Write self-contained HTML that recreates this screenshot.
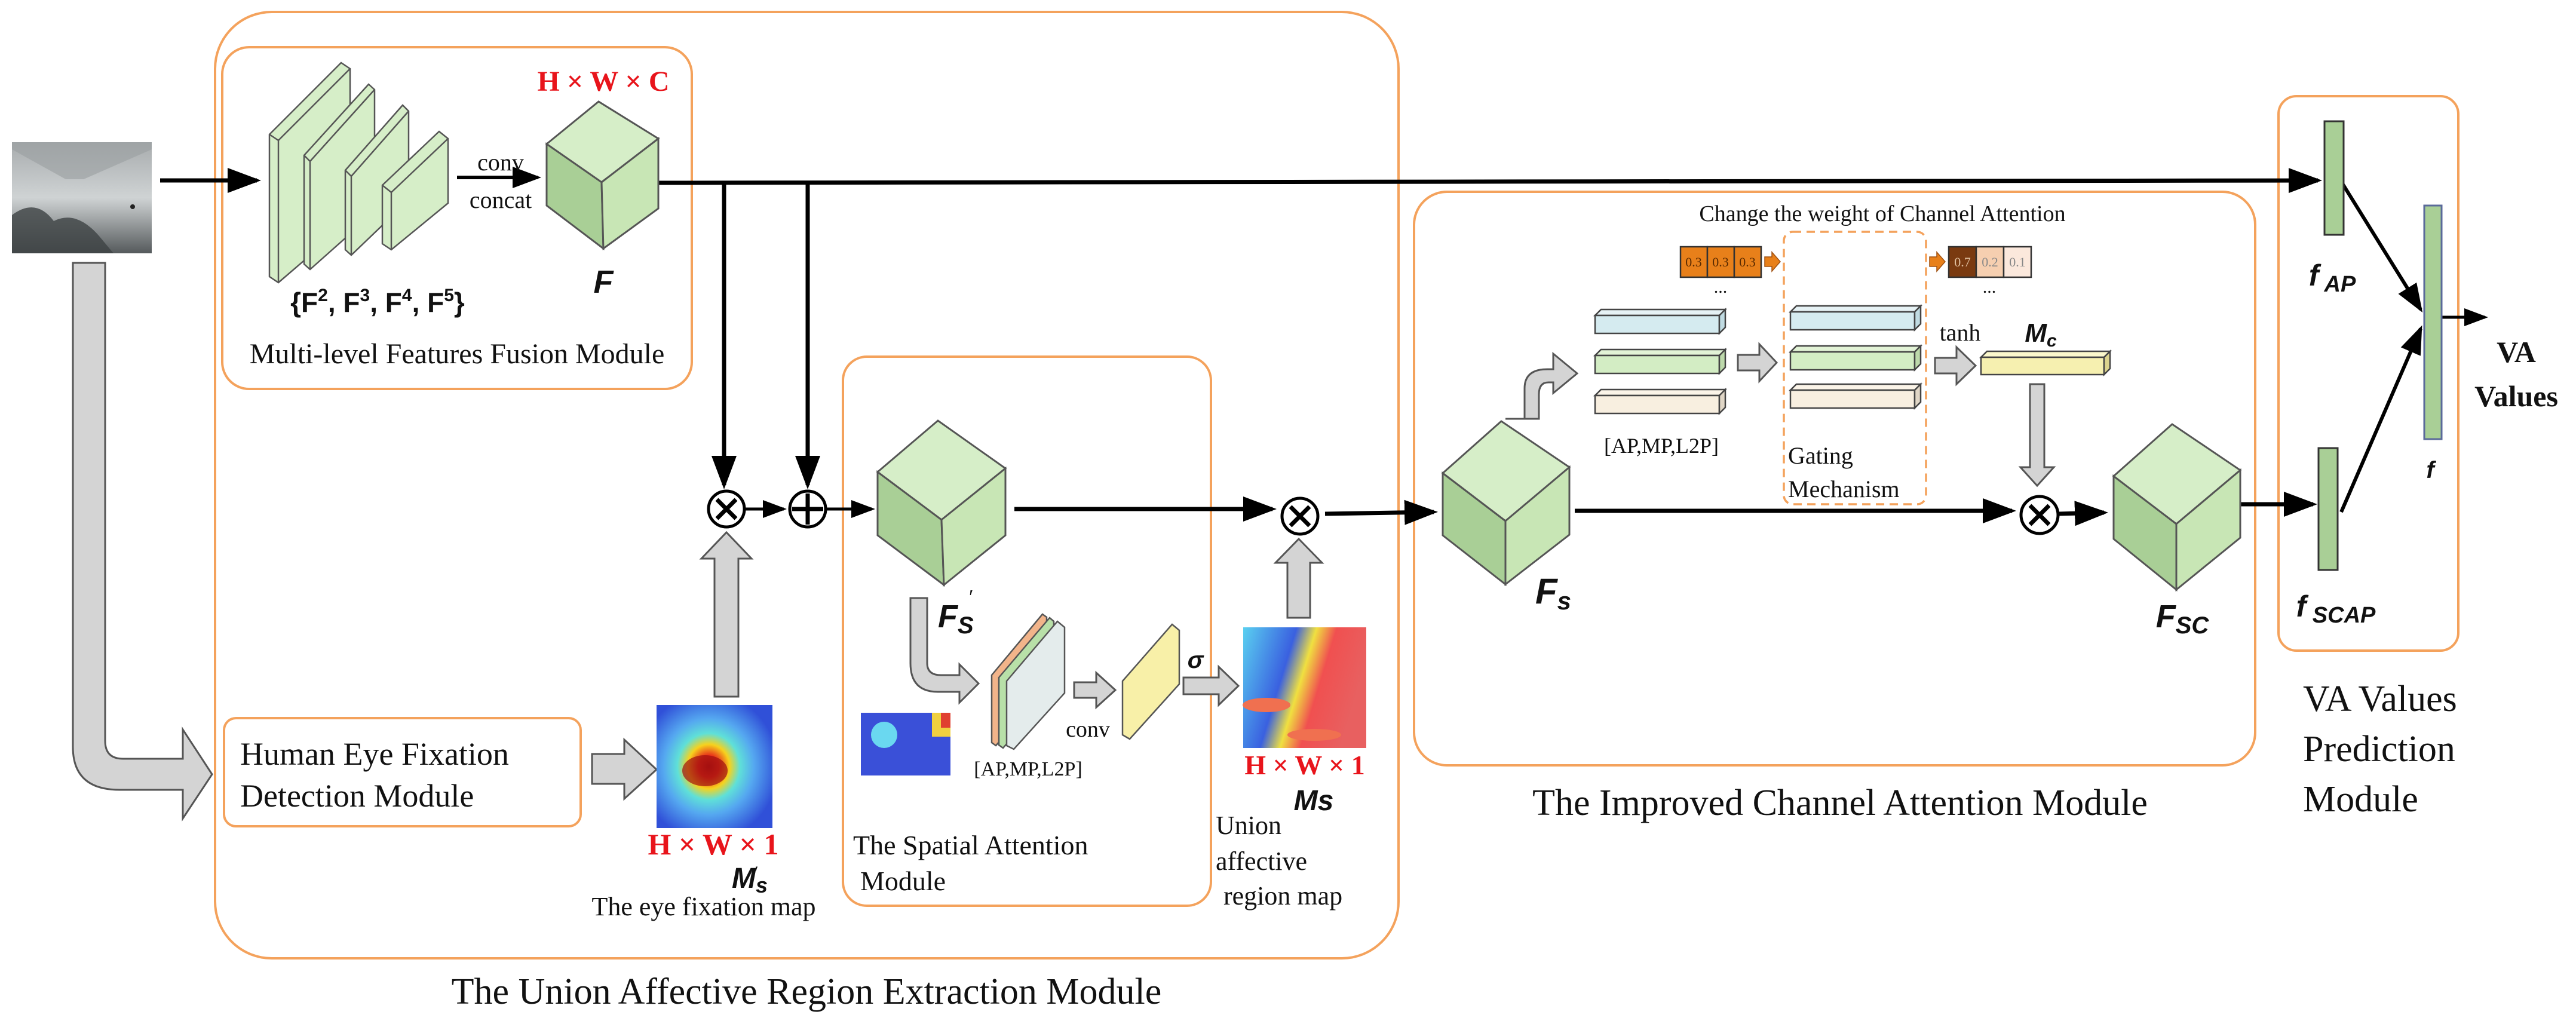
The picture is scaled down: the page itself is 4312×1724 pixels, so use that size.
<!DOCTYPE html>
<html><head><meta charset="utf-8"><style>
html,body{margin:0;padding:0;background:#fff;}
svg{display:block;}
.s{font-family:"Liberation Serif",serif;fill:#111;}
.b{font-family:"Liberation Sans",sans-serif;font-weight:bold;fill:#111;}
.r{font-family:"Liberation Serif",serif;font-weight:bold;fill:#e8141b;}
</style></head><body>
<svg width="4312" height="1724" viewBox="0 0 4312 1724" xmlns="http://www.w3.org/2000/svg">
<defs>
<marker id="ah" markerWidth="8" markerHeight="8" refX="7" refY="4" orient="auto" markerUnits="strokeWidth"><path d="M0,1 L8,4 L0,7 z" fill="#000"/></marker>
<radialGradient id="hm1" cx="0.45" cy="0.5" r="0.6">
<stop offset="0" stop-color="#b01010"/><stop offset="0.15" stop-color="#e8301a"/><stop offset="0.3" stop-color="#f7d21d"/><stop offset="0.45" stop-color="#5fe0d8"/><stop offset="0.65" stop-color="#55a8f0"/><stop offset="1" stop-color="#3050d8"/></radialGradient>
<linearGradient id="hm2" x1="0" y1="0" x2="1" y2="0.3">
<stop offset="0" stop-color="#5ad0f0"/><stop offset="0.4" stop-color="#3a60e0"/><stop offset="0.55" stop-color="#f0e040"/><stop offset="0.7" stop-color="#f05050"/><stop offset="1" stop-color="#e86060"/></linearGradient>
<linearGradient id="sky" x1="0" y1="0" x2="0" y2="1"><stop offset="0" stop-color="#a8acae"/><stop offset="0.5" stop-color="#cfd3d4"/><stop offset="0.6" stop-color="#b8bcbd"/><stop offset="1" stop-color="#555a5c"/></linearGradient>
</defs>

<rect x="360" y="20" width="1981" height="1584" rx="95" fill="none" stroke="#f4a25c" stroke-width="4"/>
<rect x="372" y="79" width="786" height="572" rx="45" fill="none" stroke="#f4a25c" stroke-width="4"/>
<rect x="375" y="1202" width="597" height="181" rx="20" fill="none" stroke="#f4a25c" stroke-width="4"/>
<rect x="1411" y="597" width="616" height="919" rx="40" fill="none" stroke="#f4a25c" stroke-width="4"/>
<rect x="2367" y="321" width="1408" height="960" rx="55" fill="none" stroke="#f4a25c" stroke-width="4"/>
<rect x="3814" y="161" width="301" height="928" rx="30" fill="none" stroke="#f4a25c" stroke-width="4"/>
<rect x="2986" y="388" width="238" height="456" rx="15" fill="none" stroke="#f4a25c" stroke-width="3.5" stroke-dasharray="14,9"/>

<rect x="20" y="238" width="234" height="186" fill="url(#sky)"/>
<path d="M20,250 L110,300 L140,300 L254,250 L254,238 L20,238z" fill="#9a9ea0" opacity="0.6"/>
<path d="M20,424 L20,360 Q60,330 90,370 Q130,350 170,400 L190,424z" fill="#3d4244" opacity="0.8"/>
<circle cx="222" cy="346" r="4" fill="#222"/>

<g stroke="#000" stroke-width="7" fill="none">
<line x1="268" y1="302" x2="430" y2="302" marker-end="url(#ah)"/>
<line x1="765" y1="297" x2="900" y2="297" stroke-width="6" marker-end="url(#ah)"/>
<line x1="1102" y1="306" x2="3880" y2="302" marker-end="url(#ah)"/>
<line x1="1212" y1="306" x2="1212" y2="812" marker-end="url(#ah)"/>
<line x1="1352" y1="306" x2="1352" y2="812" marker-end="url(#ah)"/>
<line x1="1248" y1="852" x2="1312" y2="852" stroke-width="5" marker-end="url(#ah)"/>
<line x1="1384" y1="852" x2="1460" y2="852" stroke-width="5" marker-end="url(#ah)"/>
<line x1="1698" y1="852" x2="2130" y2="852" marker-end="url(#ah)"/>
<line x1="2218" y1="860" x2="2400" y2="857" marker-end="url(#ah)"/>
<line x1="2636" y1="855" x2="3368" y2="855" marker-end="url(#ah)"/>
<line x1="3446" y1="860" x2="3522" y2="858" marker-end="url(#ah)"/>
<line x1="3750" y1="844" x2="3872" y2="844" marker-end="url(#ah)"/>
<line x1="3919" y1="304" x2="4052" y2="518" stroke-width="6" marker-end="url(#ah)"/>
<line x1="3919" y1="857" x2="4052" y2="550" stroke-width="6" marker-end="url(#ah)"/>
<line x1="4087" y1="531" x2="4160" y2="531" stroke-width="5" marker-end="url(#ah)"/>
</g>

<g stroke="#000" stroke-width="5" fill="#fff">
<circle cx="1216" cy="852" r="30"/><circle cx="1352" cy="852" r="30"/><circle cx="2176" cy="864" r="30"/><circle cx="3414" cy="862" r="31"/>
</g>
<g stroke="#000" stroke-width="7">
<path d="M1200,836 L1232,868 M1232,836 L1200,868"/>
<path d="M1352,826 L1352,878 M1326,852 L1378,852"/>
<path d="M2160,848 L2192,880 M2192,848 L2160,880"/>
<path d="M3398,846 L3430,878 M3430,846 L3398,878"/>
</g>

<g fill="#d4d4d4" stroke="#555" stroke-width="3">
<path d="M122,440 L176,440 L176,1240 Q176,1270 206,1270 L306,1270 L306,1221 L355,1296 L306,1370 L306,1322 L200,1322 Q122,1322 122,1250 z"/>
<path d="M991,1262 L1045,1262 L1045,1238 L1099,1288 L1045,1337 L1045,1312 L991,1312 z"/>
<path d="M1196,1166 L1236,1166 L1236,935 L1258,935 L1216,891 L1174,935 L1196,935 z"/>
<path d="M2155,1034 L2193,1034 L2193,942 L2213,942 L2174,902 L2135,942 L2155,942 z"/>
<path d="M1524,1001 L1552,1001 L1552,1110 Q1552,1130 1575,1130 L1606,1130 L1606,1112 L1638,1144 L1606,1176 L1606,1158 L1570,1158 Q1524,1158 1524,1110 z"/>
<path d="M1798,1142 L1835,1142 L1835,1126 L1867,1155 L1835,1184 L1835,1168 L1798,1168 z"/>
<path d="M1981,1134 L2040,1134 L2040,1116 L2073,1148 L2040,1180 L2040,1162 L1981,1162 z"/>
<path d="M2520,701 L2552,701 L2552,650 Q2552,618 2590,618 L2600,618 L2600,592 L2640,625 L2600,658 L2600,640 L2592,640 Q2576,640 2576,660 L2576,701 z"/>
<path d="M2909,594 L2945,594 L2945,576 L2974,607 L2945,638 L2945,620 L2909,620 z"/>
<path d="M3239,599 L3275,599 L3275,581 L3307,612 L3275,643 L3275,625 L3239,625 z"/>
<path d="M3398,643 L3422,643 L3422,782 L3438,782 L3410,813 L3382,782 L3398,782 z"/>
</g>

<g stroke="#555" stroke-width="2.5">
<polygon points="451,225 571,105 586,115 586,370 466,473 451,463" fill="#d6eec8"/>
<polygon points="509,260 617,141 627,150 627,355 519,451 509,442" fill="#d6eec8"/>
<polygon points="578,285 674,176 684,186 684,335 588,427 578,418" fill="#d6eec8"/>
<polygon points="640,310 735,220 750,232 750,340 655,418 640,408" fill="#d6eec8"/>
<path d="M451,225 L466,235 L466,473 M466,235 L586,115" fill="none"/>
<path d="M509,260 L519,270 L519,451 M519,270 L627,150" fill="none"/>
<path d="M578,285 L588,295 L588,427 M588,295 L684,186" fill="none"/>
<path d="M640,310 L655,322 L655,418 M655,322 L750,232" fill="none"/>
</g>

<g stroke="#555" stroke-width="3">
<polygon points="915,241 1002,170 1102,232 1007,305" fill="#d6eec8"/>
<polygon points="915,241 1007,305 1010,416 915,344" fill="#a9cf96"/>
<polygon points="1007,305 1102,232 1102,349 1010,416" fill="#c8e6b5"/>
<polygon points="1469,790 1570,704 1683,784 1576,870" fill="#d6eec8"/>
<polygon points="1469,790 1576,870 1580,979 1469,896" fill="#a9cf96"/>
<polygon points="1576,870 1683,784 1683,896 1580,979" fill="#c8e6b5"/>
<polygon points="2415,792 2513,705 2627,782 2520,872" fill="#d6eec8"/>
<polygon points="2415,792 2520,872 2520,978 2415,896" fill="#a9cf96"/>
<polygon points="2520,872 2627,782 2627,895 2520,978" fill="#c8e6b5"/>
<polygon points="3538,797 3636,710 3750,787 3643,877" fill="#d6eec8"/>
<polygon points="3538,797 3643,877 3643,987 3538,902" fill="#a9cf96"/>
<polygon points="3643,877 3750,787 3750,900 3643,987" fill="#c8e6b5"/>
</g>

<g stroke="#555" stroke-width="2.5">
<polygon points="1660,1130 1745,1028 1752,1033 1752,1150 1667,1248 1660,1243" fill="#f2b48a"/>
<polygon points="1672,1134 1757,1034 1764,1040 1764,1156 1679,1252 1672,1247" fill="#b8e0a8"/>
<polygon points="1685,1140 1770,1040 1782,1050 1782,1160 1697,1254 1685,1248" fill="#e4ecec"/>
<polygon points="1879,1140 1962,1045 1974,1055 1974,1145 1891,1237 1879,1230" fill="#f8f0a8"/>
</g>

<rect x="1099" y="1180" width="194" height="206" fill="url(#hm1)"/>
<ellipse cx="1180" cy="1290" rx="38" ry="26" fill="#a01010" opacity="0.7"/>
<rect x="2081" y="1050" width="206" height="202" fill="url(#hm2)"/>
<ellipse cx="2120" cy="1180" rx="40" ry="12" fill="#f07050"/><ellipse cx="2200" cy="1230" rx="45" ry="10" fill="#f07050"/>
<rect x="1441" y="1193" width="150" height="105" fill="#3a50d8"/>
<circle cx="1480" cy="1230" r="22" fill="#6ad8f0"/><rect x="1560" y="1193" width="31" height="40" fill="#f0d040"/><rect x="1575" y="1193" width="16" height="25" fill="#e04030"/>

<g stroke="#444" stroke-width="2.5">
<polygon points="2670,528 2680,518 2888,518 2878,528" fill="#e6f2f5"/><rect x="2670" y="528" width="208" height="30" fill="#d5ebf0"/><polygon points="2878,528 2888,518 2888,548 2878,558" fill="#c0dbe2"/>
<polygon points="2670,595 2680,585 2888,585 2878,595" fill="#e2f3d6"/><rect x="2670" y="595" width="208" height="30" fill="#d3edc4"/><polygon points="2878,595 2888,585 2888,615 2878,625" fill="#bdd9ab"/>
<polygon points="2670,662 2680,652 2888,652 2878,662" fill="#fbf4e8"/><rect x="2670" y="662" width="208" height="30" fill="#f8efe0"/><polygon points="2878,662 2888,652 2888,682 2878,692" fill="#e0d6c6"/>
<polygon points="2997,522 3007,512 3215,512 3205,522" fill="#e6f2f5"/><rect x="2997" y="522" width="208" height="30" fill="#d5ebf0"/><polygon points="3205,522 3215,512 3215,542 3205,552" fill="#c0dbe2"/>
<polygon points="2997,589 3007,579 3215,579 3205,589" fill="#e2f3d6"/><rect x="2997" y="589" width="208" height="30" fill="#d3edc4"/><polygon points="3205,589 3215,579 3215,609 3205,619" fill="#bdd9ab"/>
<polygon points="2997,653 3007,643 3215,643 3205,653" fill="#fbf4e8"/><rect x="2997" y="653" width="208" height="30" fill="#f8efe0"/><polygon points="3205,653 3215,643 3215,673 3205,683" fill="#e0d6c6"/>
<polygon points="3316,598 3326,588 3532,588 3522,598" fill="#fbf8cc"/><rect x="3316" y="598" width="206" height="29" fill="#f6f0b0"/><polygon points="3522,598 3532,588 3532,617 3522,627" fill="#dcd48e"/>
</g>

<g stroke="#333" stroke-width="2.5">
<rect x="2813" y="413" width="45" height="51" fill="#e8801a"/><rect x="2858" y="413" width="45" height="51" fill="#e8801a"/><rect x="2903" y="413" width="45" height="51" fill="#e8801a"/>
<rect x="3262" y="413" width="46" height="51" fill="#7a3a10"/><rect x="3308" y="413" width="46" height="51" fill="#f6cfb0"/><rect x="3354" y="413" width="46" height="51" fill="#fbe8dc"/>
</g>
<g fill="#e8801a" stroke="#a05010" stroke-width="1.5">
<path d="M2954,430 L2966,430 L2966,422 L2980,438 L2966,454 L2966,446 L2954,446z"/>
<path d="M3230,430 L3242,430 L3242,422 L3256,438 L3242,454 L3242,446 L3230,446z"/>
</g>
<g class="s" font-size="22" text-anchor="middle">
<text x="2835" y="446" fill="#5a2a00">0.3</text><text x="2880" y="446" fill="#5a2a00">0.3</text><text x="2925" y="446" fill="#5a2a00">0.3</text>
<text x="3285" y="446" fill="#e0c0a0">0.7</text><text x="3331" y="446" fill="#888">0.2</text><text x="3377" y="446" fill="#888">0.1</text>
</g>

<rect x="3891" y="203" width="32" height="190" fill="#a9cf96" stroke="#333" stroke-width="3"/>
<rect x="3881" y="750" width="32" height="204" fill="#a9cf96" stroke="#333" stroke-width="3"/>
<rect x="4058" y="344" width="29" height="391" fill="#a9cf96" stroke="#5a6a9a" stroke-width="3"/>

<text class="r" x="1010" y="152" font-size="48" text-anchor="middle">H × W × C</text>
<text class="b" x="1010" y="490" font-size="54" font-style="italic" text-anchor="middle">F</text>
<text class="b" x="632" y="522" font-size="46" font-weight="normal" text-anchor="middle">{F<tspan dy="-18" font-size="30">2</tspan><tspan dy="18">,  F</tspan><tspan dy="-18" font-size="30">3</tspan><tspan dy="18">,  F</tspan><tspan dy="-18" font-size="30">4</tspan><tspan dy="18">,  F</tspan><tspan dy="-18" font-size="30">5</tspan><tspan dy="18">}</tspan></text>
<text class="s" x="838" y="285" font-size="40" text-anchor="middle">conv</text>
<text class="s" x="838" y="348" font-size="40" text-anchor="middle">concat</text>
<text class="s" x="765" y="608" font-size="48" text-anchor="middle">Multi-level Features Fusion Module</text>
<text class="s" x="402" y="1280" font-size="54">Human Eye Fixation</text>
<text class="s" x="402" y="1350" font-size="54">Detection Module</text>
<text class="r" x="1194" y="1430" font-size="50" text-anchor="middle">H × W × 1</text>
<text class="b" x="1255" y="1486" font-size="48" font-style="italic" text-anchor="middle">M<tspan font-size="36" dy="8">s</tspan></text>
<text class="s" x="1263" y="1470" font-size="30">′</text>
<text class="s" x="1178" y="1532" font-size="44" text-anchor="middle">The eye fixation map</text>
<text class="b" x="1570" y="1050" font-size="54" font-style="italic">F<tspan font-size="40" dy="10">S</tspan></text>
<text class="s" x="1622" y="1010" font-size="34">′</text>
<text class="s" x="1721" y="1298" font-size="34" text-anchor="middle">[AP,MP,L2P]</text>
<text class="s" x="1821" y="1233" font-size="38" text-anchor="middle">conv</text>
<text class="b" x="2001" y="1118" font-size="40" font-style="italic" text-anchor="middle">σ</text>
<text class="r" x="2184" y="1296" font-size="46" text-anchor="middle">H × W × 1</text>
<text class="b" x="2199" y="1356" font-size="48" font-style="italic" text-anchor="middle">Ms</text>
<text class="s" x="2035" y="1396" font-size="44">Union</text>
<text class="s" x="2035" y="1456" font-size="44">affective</text>
<text class="s" x="2048" y="1514" font-size="44">region map</text>
<text class="s" x="1428" y="1430" font-size="46">The Spatial Attention</text>
<text class="s" x="1440" y="1490" font-size="46">Module</text>
<text class="s" x="1350" y="1680" font-size="62" text-anchor="middle">The Union Affective Region Extraction Module</text>

<text class="s" x="3151" y="370" font-size="38" text-anchor="middle">Change the weight of Channel Attention</text>
<text class="s" x="2880" y="490" font-size="30" text-anchor="middle">...</text>
<text class="s" x="3330" y="490" font-size="30" text-anchor="middle">...</text>
<text class="s" x="2781" y="758" font-size="36" text-anchor="middle">[AP,MP,L2P]</text>
<text class="s" x="2993" y="776" font-size="40">Gating</text>
<text class="s" x="2993" y="832" font-size="40">Mechanism</text>
<text class="s" x="3281" y="570" font-size="40" text-anchor="middle">tanh</text>
<text class="b" x="3416" y="572" font-size="44" font-style="italic" text-anchor="middle">M<tspan font-size="30" dy="8">c</tspan></text>
<text class="b" x="2600" y="1010" font-size="60" font-style="italic" font-weight="normal" text-anchor="middle">F<tspan font-size="42" font-weight="bold" dy="10">s</tspan></text>
<text class="b" x="3653" y="1050" font-size="54" font-style="italic" text-anchor="middle">F<tspan font-size="40" dy="10">SC</tspan></text>
<text class="s" x="3080" y="1364" font-size="62" text-anchor="middle">The Improved Channel Attention Module</text>

<text class="b" x="3904" y="478" font-size="50" font-style="italic" text-anchor="middle">f<tspan font-size="38" dy="10"> AP</tspan></text>
<text class="b" x="3910" y="1032" font-size="50" font-style="italic" text-anchor="middle">f<tspan font-size="38" dy="10"> SCAP</tspan></text>
<text class="b" x="4068" y="800" font-size="40" font-style="italic" text-anchor="middle">f</text>
<text class="s" x="4212" y="606" font-size="50" font-weight="bold" text-anchor="middle">VA</text>
<text class="s" x="4212" y="680" font-size="50" font-weight="bold" text-anchor="middle">Values</text>
<text class="s" x="3855" y="1190" font-size="62">VA Values</text>
<text class="s" x="3855" y="1274" font-size="62">Prediction</text>
<text class="s" x="3855" y="1358" font-size="62">Module</text>
</svg>
</body></html>
